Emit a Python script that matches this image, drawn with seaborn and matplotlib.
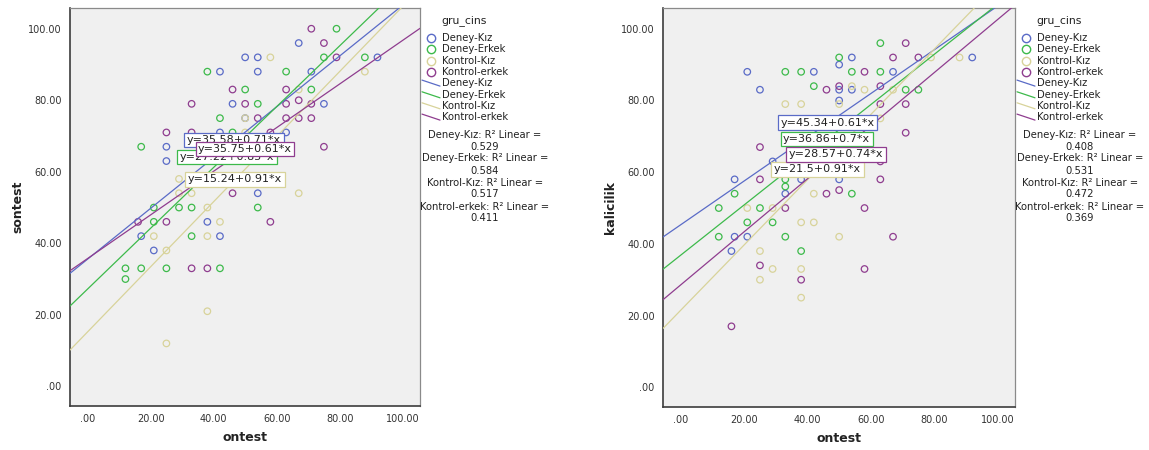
import numpy as np
import pandas as pd
import matplotlib
matplotlib.use("Agg")
import matplotlib.pyplot as plt
import seaborn as sns
from matplotlib.lines import Line2D

# ---------------- data ----------------
groups = ["Deney-Kız", "Deney-Erkek", "Kontrol-Kız", "Kontrol-erkek"]
colors = ["#5a6bc7", "#3dba4b", "#d8d39a", "#8f3d8f"]

# panel 1: ontest vs sontest
son_deney_kiz = [(67, 96), (50, 92), (54, 92), (92, 92), (42, 88), (54, 88), (71, 88), (46, 79),
                 (75, 79), (50, 75), (42, 71), (63, 71), (25, 67), (25, 63), (54, 54), (38, 46),
                 (17, 42), (42, 42), (21, 38)]
son_deney_erkek = [(79, 100), (75, 92), (88, 92), (38, 88), (63, 88), (50, 83), (71, 83), (54, 79),
                   (42, 75), (46, 71), (17, 67), (21, 50), (29, 50), (33, 50), (54, 50), (21, 46),
                   (33, 42), (12, 33), (17, 33), (25, 33), (42, 33), (12, 30)]
son_kontrol_kiz = [(58, 92), (88, 88), (67, 83), (50, 75), (50, 71), (29, 58), (29, 54), (33, 54),
                   (67, 54), (38, 50), (42, 46), (21, 42), (38, 42), (25, 38), (38, 21), (25, 12)]
son_kontrol_erkek = [(71, 100), (75, 96), (79, 92), (46, 83), (63, 83), (33, 79), (50, 79), (63, 79),
                     (71, 79), (67, 80), (54, 75), (63, 75), (67, 75), (71, 75), (25, 71), (33, 71),
                     (58, 71), (75, 67), (46, 54), (16, 46), (25, 46), (58, 46), (33, 33), (38, 33)]
son_intercepts = [35.58, 27.22, 15.24, 35.75]
son_slopes = [0.71, 0.85, 0.91, 0.61]
son_r2 = ["0.529", "0.584", "0.517", "0.411"]

# panel 2: ontest vs kalicilik
kal_deney_kiz = [(54, 92), (92, 92), (50, 90), (21, 88), (42, 88), (67, 88), (25, 83), (50, 83),
                 (54, 83), (50, 80), (29, 63), (17, 58), (38, 58), (50, 58), (33, 54), (17, 42),
                 (21, 42), (16, 38)]
kal_deney_erkek = [(63, 96), (50, 92), (33, 88), (38, 88), (54, 88), (63, 88), (42, 84), (71, 83),
                   (75, 83), (33, 58), (33, 56), (17, 54), (54, 54), (12, 50), (25, 50), (21, 46),
                   (29, 46), (12, 42), (33, 42), (38, 38)]
kal_kontrol_kiz = [(79, 92), (88, 92), (54, 84), (58, 83), (67, 83), (33, 79), (38, 79), (50, 79),
                   (63, 75), (42, 54), (21, 50), (29, 50), (38, 46), (42, 46), (50, 42), (25, 38),
                   (29, 33), (38, 33), (25, 30), (38, 25)]
kal_kontrol_erkek = [(71, 96), (67, 92), (75, 92), (58, 88), (50, 84), (63, 84), (46, 83), (63, 79),
                     (71, 79), (71, 71), (25, 67), (63, 63), (25, 58), (63, 58), (46, 54), (50, 55),
                     (33, 50), (58, 50), (67, 42), (25, 34), (58, 33), (38, 30), (16, 17)]
kal_intercepts = [45.34, 36.86, 21.5, 28.57]
kal_slopes = [0.61, 0.7, 0.91, 0.74]
kal_r2 = ["0.408", "0.531", "0.472", "0.369"]

tick_values = [0, 20, 40, 60, 80, 100]
tick_labels = [".00", "20.00", "40.00", "60.00", "80.00", "100.00"]


def make_df(lists, ycol):
    rows = []
    for g, pts in zip(groups, lists):
        for x, y in pts:
            rows.append({"ontest": x, ycol: y, "gru_cins": g})
    return pd.DataFrame(rows)


df_son = make_df([son_deney_kiz, son_deney_erkek, son_kontrol_kiz, son_kontrol_erkek], "sontest")
df_kal = make_df([kal_deney_kiz, kal_deney_erkek, kal_kontrol_kiz, kal_kontrol_erkek], "kalicilik")

# ---------------- figure ----------------
sns.set_style("white")
plt.rcParams["font.family"] = ["DejaVu Sans"]
W, H = 1149, 450
fig = plt.figure(figsize=(W / 100, H / 100), dpi=100)


def fx(px):
    return px / W


def fy(py):
    return 1 - py / H


palette = dict(zip(groups, colors))
txt_color = "#222222"


def panel(rect_px, df, ycol, intercepts, slopes, r2, label_pos, label_order):
    x0, x1, y0, y1 = rect_px
    ax = fig.add_axes([fx(x0), fy(y1), fx(x1) - fx(x0), (y1 - y0) / H])
    ax.set_facecolor("#f0f0f0")
    sns.scatterplot(data=df, x="ontest", y=ycol, hue="gru_cins", hue_order=groups,
                    palette=palette, s=22, linewidth=0.9, legend=False, ax=ax, zorder=2)
    coll = ax.collections[-1]
    fc = coll.get_facecolors()
    coll.set_edgecolors(fc)
    coll.set_facecolors("none")
    for b, m, c in zip(intercepts, slopes, colors):
        ax.axline((0, b), slope=m, color=c, lw=0.9, zorder=3)
    ax.set_xlim(-5.6, 105.5)
    ax.set_ylim(-5.5, 105.8)
    ax.set_xticks(tick_values)
    ax.set_xticklabels(tick_labels)
    ax.set_yticks(tick_values)
    ax.set_yticklabels(tick_labels)
    ax.tick_params(direction="out", length=4.5, width=0.9, color="#444444",
                   labelsize=7, labelcolor="#333333", pad=1.5)
    for s in ["left", "bottom"]:
        ax.spines[s].set_color("#3c3c3c")
        ax.spines[s].set_linewidth(1.2)
    for s in ["top", "right"]:
        ax.spines[s].set_color("#8a8a8a")
        ax.spines[s].set_linewidth(0.9)
    ax.set_xlabel("ontest", fontsize=9, fontweight="bold", color=txt_color, labelpad=5)
    ax.set_ylabel(ycol, fontsize=9, fontweight="bold", color=txt_color, labelpad=3)
    # equation labels
    for z, i in enumerate(label_order):
        px_, py_ = label_pos[i]
        ax.text((px_ - x0) / (x1 - x0), (y1 - py_) / (y1 - y0),
                f"y={intercepts[i]:g}+{slopes[i]:g}*x", transform=ax.transAxes,
                ha="center", va="center", fontsize=8, color=txt_color, zorder=5 + z,
                bbox=dict(boxstyle="square,pad=0.22", fc="white", ec=colors[i], lw=0.9))
    # legend (drawn manually, SPSS style)
    lx = x1
    fig.text(fx(lx + 44), fy(21), "gru_cins", ha="center", va="center", fontsize=7.8, color=txt_color)
    rows = [37.7, 49.3, 61, 72.3, 83.3, 95, 106, 117.3]
    for k, g in enumerate(groups):
        yy = rows[k]
        fig.add_artist(Line2D([fx(lx + 10.5)], [fy(yy)], marker="o", ms=6, mfc="none",
                              mec=colors[k], mew=1.0, transform=fig.transFigure))
        fig.text(fx(lx + 22), fy(yy), g, ha="left", va="center", fontsize=7.2, color=txt_color)
    for k, g in enumerate(groups):
        yy = rows[4 + k]
        fig.add_artist(Line2D([fx(lx + 2), fx(lx + 20)], [fy(yy - 3.2), fy(yy + 2.8)],
                              color=colors[k], lw=0.9, transform=fig.transFigure))
        fig.text(fx(lx + 22), fy(yy), g, ha="left", va="center", fontsize=7.2, color=txt_color)
    r_rows = [135, 146.7, 158.3, 170.7, 182.7, 194.3, 206.7, 218.3]
    for k, g in enumerate(groups):
        fig.text(fx(lx + 65), fy(r_rows[2 * k]), f"{g}: R² Linear =", ha="center", va="center",
                 fontsize=7.2, color=txt_color)
        fig.text(fx(lx + 65), fy(r_rows[2 * k + 1]), r2[k], ha="center", va="center",
                 fontsize=7.2, color=txt_color)
    return ax


panel((70, 420, 8, 406), df_son, "sontest", son_intercepts, son_slopes, son_r2,
      label_pos=[(234, 140), (227, 157), (235, 179.5), (245, 149)], label_order=[0, 1, 2, 3])
panel((663, 1015, 8, 407), df_kal, "kalicilik", kal_intercepts, kal_slopes, kal_r2,
      label_pos=[(827.5, 122.9), (826.7, 139), (817.5, 169.5), (836, 154.2)], label_order=[0, 1, 2, 3])

fig.savefig("out.png", dpi=100)
